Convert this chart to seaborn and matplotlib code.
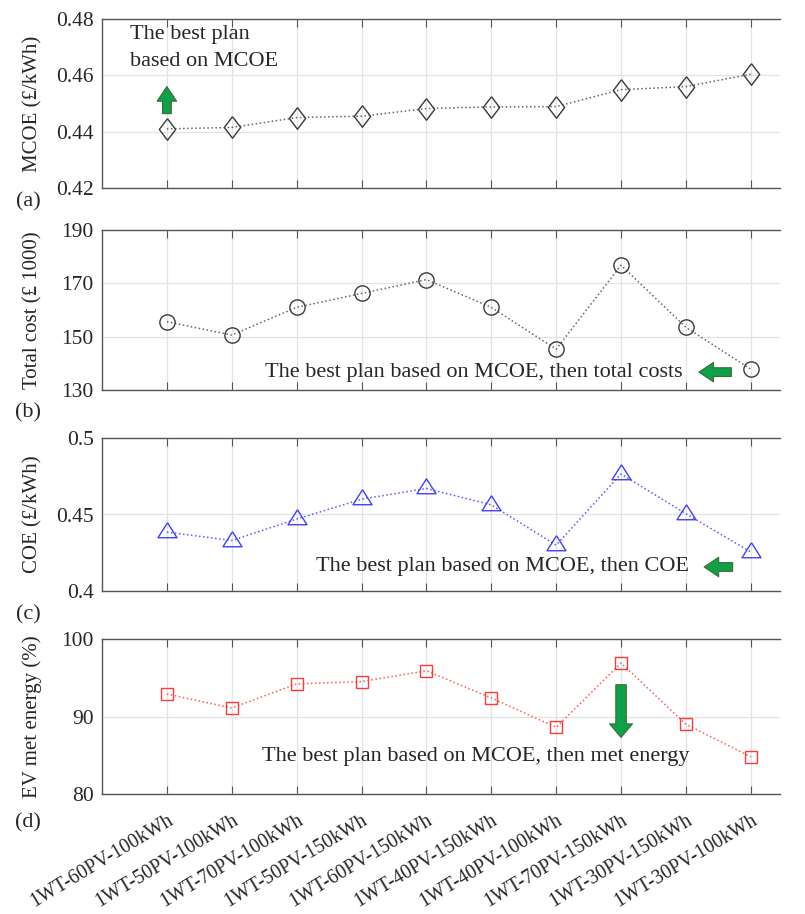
import numpy as np
import matplotlib
matplotlib.use("Agg")
import matplotlib.pyplot as plt
import seaborn as sns

sns.set_style("whitegrid")
plt.rcParams['font.family'] = ['Liberation Serif', 'DejaVu Serif']

plans = ['1WT-60PV-100kWh', '1WT-50PV-100kWh', '1WT-70PV-100kWh', '1WT-50PV-150kWh',
         '1WT-60PV-150kWh', '1WT-40PV-150kWh', '1WT-40PV-100kWh', '1WT-70PV-150kWh',
         '1WT-30PV-150kWh', '1WT-30PV-100kWh']
mcoe = [0.4410, 0.4415, 0.4450, 0.4455, 0.4482, 0.4488, 0.4489, 0.4549, 0.4560, 0.4604]
total_cost = [155.6, 150.6, 161.0, 166.2, 171.4, 161.0, 145.3, 176.8, 153.5, 137.8]
coe = [0.4385, 0.4330, 0.4470, 0.4600, 0.4670, 0.4563, 0.4300, 0.4765, 0.4505, 0.4255]
met_energy = [92.9, 91.1, 94.2, 94.5, 95.9, 92.4, 88.6, 96.9, 89.0, 84.8]

x = np.arange(len(plans))

# MATLAB-like marker shapes (wider diamond, flat triangle)
diamond = [(0, 1), (0.76, 0), (0, -1), (-0.76, 0), (0, 1)]
triangle = [(0, 1.3), (1.27, -0.7), (-1.27, -0.7), (0, 1.3)]

fig = plt.figure(figsize=(8.05, 9.14), dpi=100)
L, W = 102 / 805, 678 / 805
boxes = [(19, 188), (230, 390), (438, 591), (639, 794)]
axes = [fig.add_axes([L, 1 - b / 914, W, (b - t) / 914]) for t, b in boxes]

series = [
    (mcoe, diamond, 15.5, '#3a3a3a', '#666666', 'MCOE (£/kWh)', (0.42, 0.48), [0.42, 0.44, 0.46, 0.48], '{:.2f}'),
    (total_cost, 'o', 11, '#3a3a3a', '#666666', 'Total cost (£ 1000)', (130, 190), [130, 150, 170, 190], '{:.0f}'),
    (coe, triangle, 14, '#4040ff', '#5a5aff', 'COE (£/kWh)', (0.4, 0.5), [0.4, 0.45, 0.5], '{:g}'),
    (met_energy, 's', 9, '#ff3838', '#ff5a5a', 'EV met energy (%)', (80, 100), [80, 90, 100], '{:.0f}'),
]

for ax, (vals, mk, ms, mec, lc, ylab, ylim, yt, fmt) in zip(axes, series):
    sns.lineplot(x=x, y=vals, ax=ax, color=lc, linestyle=':', linewidth=1.1,
                 marker=mk, markersize=ms, markerfacecolor='none',
                 markeredgecolor=mec, markeredgewidth=1.0)
    ax.set_xlim(-1, 9.45)
    ax.set_ylim(*ylim)
    ax.set_yticks(yt)
    ax.set_yticklabels([fmt.format(v) for v in yt], fontsize=15.5)
    ax.set_xticks(x)
    ax.grid(True, color='#e3e3e3', linewidth=0.9)
    ax.tick_params(axis='x', direction='in', length=6, top=True, bottom=True, color='#555555')
    ax.tick_params(axis='y', direction='in', length=0, pad=6)
    for s in ['left', 'top', 'bottom']:
        ax.spines[s].set_color('#555555')
        ax.spines[s].set_linewidth(1.0)
    ax.spines['right'].set_visible(False)
    ax.set_ylabel(ylab, fontsize=15)
    ax.yaxis.set_label_coords(-0.088, 0.5)

for ax in axes[:-1]:
    ax.set_xticklabels([])
axes[-1].set_xticklabels(plans, rotation=31, ha='right', rotation_mode='anchor', fontsize=14.2)
axes[-1].tick_params(axis='x', pad=12)

green = dict(fc='#0fa04a', ec='#3b6e2e', lw=0.8)

ax = axes[0]
ax.text(-0.57, 0.4697, 'The best plan\nbased on MCOE', fontsize=16, va='center', ha='left', linespacing=1.55)
ax.annotate('', xy=(0, 0.4560), xytext=(0, 0.4464),
            arrowprops=dict(arrowstyle='simple,head_width=1.0,head_length=0.75,tail_width=0.45',
                            mutation_scale=14, shrinkA=0, shrinkB=0, **green))

ax = axes[1]
ax.text(7.95, 136.7, 'The best plan based on MCOE, then total costs', fontsize=16, va='center', ha='right')
ax.annotate('', xy=(8.2, 136.7), xytext=(8.7, 136.7),
            arrowprops=dict(arrowstyle='simple,head_width=1.0,head_length=0.75,tail_width=0.45',
                            mutation_scale=14, shrinkA=0, shrinkB=0, **green))

ax = axes[2]
ax.text(8.04, 0.4157, 'The best plan based on MCOE, then COE', fontsize=16, va='center', ha='right')
ax.annotate('', xy=(8.28, 0.4157), xytext=(8.72, 0.4157),
            arrowprops=dict(arrowstyle='simple,head_width=1.0,head_length=0.75,tail_width=0.45',
                            mutation_scale=14, shrinkA=0, shrinkB=0, **green))

ax = axes[3]
ax.text(4.76, 84.8, 'The best plan based on MCOE, then met energy', fontsize=16, va='center', ha='center')
ax.annotate('', xy=(7, 87.3), xytext=(7, 94.1),
            arrowprops=dict(arrowstyle='simple,head_width=1.1,head_length=0.65,tail_width=0.5',
                            mutation_scale=15, shrinkA=0, shrinkB=0, **green))

for lab, yy in zip(['(a)', '(b)', '(c)', '(d)'], [202, 413, 615, 823]):
    fig.text(0.035, 1 - yy / 914, lab, fontsize=16, ha='center', va='center')

fig.savefig('out.png', dpi=100)
